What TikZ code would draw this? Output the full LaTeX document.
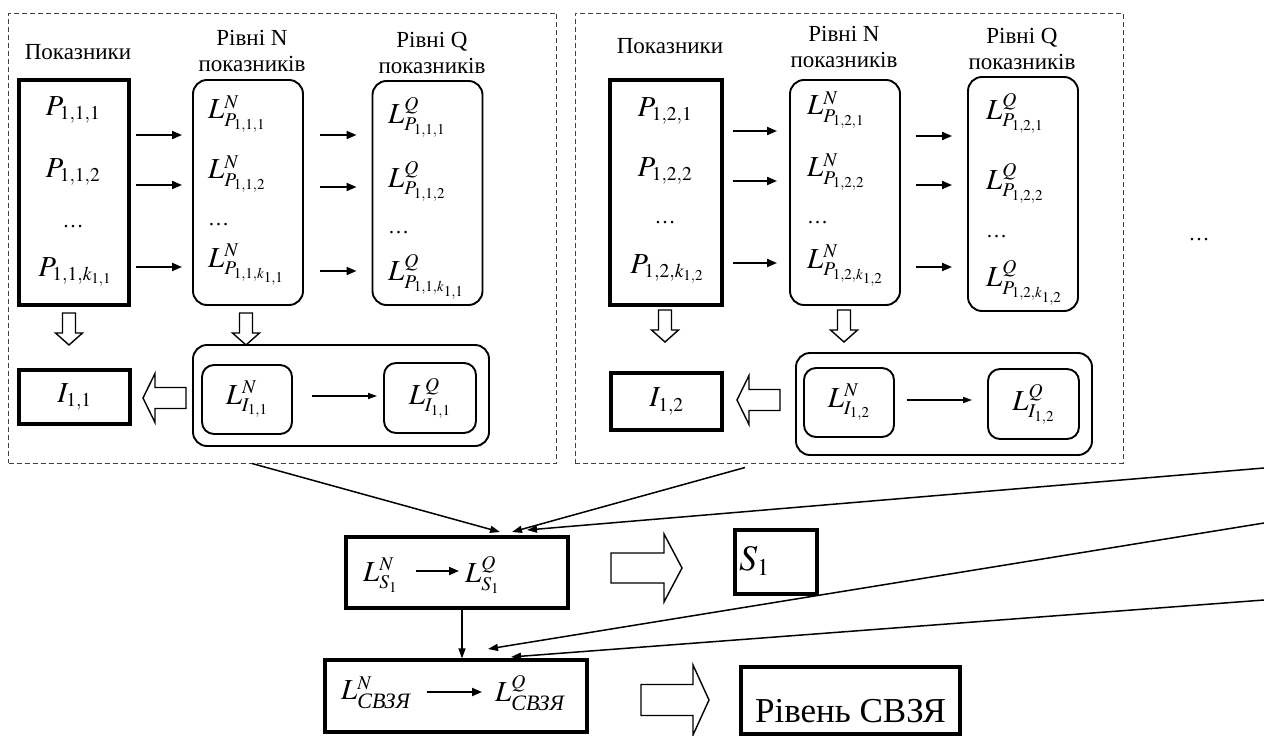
\documentclass[tikz,border=0pt]{standalone}
\usepackage{amsmath}
\usepackage{mathptmx}
\usepackage{fontspec}
\setmainfont{Liberation Serif}
\setsansfont{Liberation Serif}
\usetikzlibrary{arrows.meta}
\DeclareMathSizes{29}{29}{19.5}{15}
\DeclareMathSizes{36}{36}{24}{17}
\newcommand{\svzya}{\text{\fontsize{22pt}{22pt}\selectfont\itshape СВЗЯ}}

\tikzstyle{dashframe} = [draw=black!75, dash pattern=on 5pt off 3pt, line width=1pt, minimum width=548pt, minimum height=450pt, inner sep=0pt]
\tikzstyle{thickbox} = [draw, line width=3.2pt, inner sep=0pt]
\tikzstyle{roundbox} = [draw, line width=1.9pt, rounded corners=14pt, inner sep=0pt]
\tikzstyle{hdr} = [align=center, font=\rmfamily\fontsize{23pt}{26pt}\selectfont, inner sep=0pt]
\tikzstyle{entry} = [inner sep=0pt, font=\rmfamily\fontsize{29pt}{32pt}\selectfont]
\tikzstyle{dotsty} = [inner sep=0pt, font=\rmfamily\fontsize{21pt}{24pt}\selectfont]
\tikzstyle{arr} = [line width=1.9pt, -{Triangle[length=10pt,width=8pt]}]
\tikzstyle{thinarr} = [line width=1.3pt, -{Triangle[length=9pt,width=6pt]}]
\tikzstyle{longarr} = [line width=1.5pt, -{Triangle[length=10pt,width=7pt]}]
\tikzstyle{fat} = [draw, fill=white, line width=1.4pt, line join=miter]

\begin{document}
\begin{tikzpicture}[x=1pt, y=-1pt]
        \tikzset{pics/fatarrow/.style n args={4}{code={
            \path[fat] (0,-#2/2) -- (#1-#4,-#2/2) -- (#1-#4,-#3/2) -- (#1,0)
                -- (#1-#4,#3/2) -- (#1-#4,#2/2) -- (0,#2/2) -- cycle;}}}
        \useasboundingbox (0,0) rectangle (1264,736);

        % first group of indicators
        \node[dashframe] (g1) at (282.5,238) {};
        \node[hdr] (h11) at (78,52) {Показники};
        \node[hdr] (h12) at (252,50.5) {Рівні N\\показників};
        \node[hdr] (h13) at (432,52.5) {Рівні Q\\показників};

        \node[thickbox, minimum width=110pt, minimum height=225pt] (pb1) at (74,192.5) {};
        \node[entry] (p111) at (73,110) {$P_{1,1,1}$};
        \node[entry] (p112) at (73,172) {$P_{1,1,2}$};
        \node[dotsty] (p11d) at (73,227) {\dots};
        \node[entry] (p11k) at (75,272) {$P_{1,1,k_{1,1}}$};

        \node[roundbox, minimum width=110pt, minimum height=225pt] (nb1) at (248,192.5) {};
        \node[entry, anchor=west] (n111) at (208,114) {$L^{N}_{P_{1,1,1}}$};
        \node[entry, anchor=west] (n112) at (208,174) {$L^{N}_{P_{1,1,2}}$};
        \node[dotsty, anchor=west] (n11d) at (208,225) {\dots};
        \node[entry, anchor=west] (n11k) at (208,265) {$L^{N}_{P_{1,1,k_{1,1}}}$};

        \node[roundbox, minimum width=110pt, minimum height=224pt] (qb1) at (427.5,193) {};
        \node[entry, anchor=west] (q111) at (388,117) {$L^{Q}_{P_{1,1,1}}$};
        \node[entry, anchor=west] (q112) at (388,181) {$L^{Q}_{P_{1,1,2}}$};
        \node[dotsty, anchor=west] (q11d) at (388,233) {\dots};
        \node[entry, anchor=west] (q11k) at (388,277) {$L^{Q}_{P_{1,1,k_{1,1}}}$};

        \foreach \y in {135,185,267}
            \draw[arr, shorten <=5pt, shorten >=10pt] (pb1.east |- 0,\y) -- (nb1.west |- 0,\y);
        \foreach \y in {135,187,271}
            \draw[arr, shorten <=16pt, shorten >=15pt] (nb1.east |- 0,\y) -- (qb1.west |- 0,\y);

        \pic[rotate=-90] at (69,313) {fatarrow={32}{13}{27}{12}};
        \pic[rotate=-90] at (246,313) {fatarrow={32}{13}{27}{12}};

        \node[thickbox, entry, minimum width=111pt, minimum height=54pt] (i1) at (74.5,397) {$I_{1,1}$};
        \pic[rotate=180] at (186,398) {fatarrow={43}{21}{49}{12}};
        \node[roundbox, minimum width=296pt, minimum height=101pt] (ib1) at (341,395.5) {};
        \node[roundbox, entry, rounded corners=12pt, minimum width=90pt, minimum height=69pt] (in1) at (247,399.5) {$L^{N}_{I_{1,1}}$};
        \node[roundbox, entry, rounded corners=12pt, minimum width=92pt, minimum height=70pt] (iq1) at (430,398) {$L^{Q}_{I_{1,1}}$};
        \draw[thinarr, shorten <=19pt, shorten >=6pt] (in1.east |- 0,396) -- (iq1.west |- 0,396);

        % second group of indicators
        \node[dashframe] (g2) at (849,238) {};
        \node[hdr] (h21) at (670,46) {Показники};
        \node[hdr] (h22) at (844,46.5) {Рівні N\\показників};
        \node[hdr] (h23) at (1022,48.5) {Рівні Q\\показників};

        \node[thickbox, minimum width=112pt, minimum height=225pt] (pb2) at (666,192.5) {};
        \node[entry] (p121) at (665,111) {$P_{1,2,1}$};
        \node[entry] (p122) at (665,171) {$P_{1,2,2}$};
        \node[dotsty] (p12d) at (665,223) {\dots};
        \node[entry] (p12k) at (667,269) {$P_{1,2,k_{1,2}}$};

        \node[roundbox, minimum width=110pt, minimum height=225pt] (nb2) at (845,192.5) {};
        \node[entry, anchor=west] (n121) at (807,110) {$L^{N}_{P_{1,2,1}}$};
        \node[entry, anchor=west] (n122) at (807,172) {$L^{N}_{P_{1,2,2}}$};
        \node[dotsty, anchor=west] (n12d) at (807,223) {\dots};
        \node[entry, anchor=west] (n12k) at (807,266) {$L^{N}_{P_{1,2,k_{1,2}}}$};

        \node[roundbox, minimum width=110pt, minimum height=234pt] (qb2) at (1023,194) {};
        \node[entry, anchor=west] (q121) at (986,113) {$L^{Q}_{P_{1,2,1}}$};
        \node[entry, anchor=west] (q122) at (986,183) {$L^{Q}_{P_{1,2,2}}$};
        \node[dotsty, anchor=west] (q12d) at (986,237) {\dots};
        \node[entry, anchor=west] (q12k) at (986,283) {$L^{Q}_{P_{1,2,k_{1,2}}}$};

        \foreach \y in {131,181,263}
            \draw[arr, shorten <=9pt, shorten >=12pt] (pb2.east |- 0,\y) -- (nb2.west |- 0,\y);
        \foreach \y in {136,185,267}
            \draw[arr, shorten <=15pt, shorten >=15pt] (nb2.east |- 0,\y) -- (qb2.west |- 0,\y);

        \pic[rotate=-90] at (665,310) {fatarrow={32}{13}{27}{12}};
        \pic[rotate=-90] at (844,310) {fatarrow={32}{13}{27}{12}};

        \node[thickbox, entry, minimum width=111pt, minimum height=57pt] (i2) at (666.5,401.5) {$I_{1,2}$};
        \pic[rotate=180] at (780,400) {fatarrow={43}{21}{49}{12}};
        \node[roundbox, minimum width=296pt, minimum height=102pt] (ib2) at (944,404) {};
        \node[roundbox, entry, rounded corners=12pt, minimum width=90pt, minimum height=69pt] (in2) at (849,402.5) {$L^{N}_{I_{1,2}}$};
        \node[roundbox, entry, rounded corners=12pt, minimum width=91pt, minimum height=70pt] (iq2) at (1033.5,404) {$L^{Q}_{I_{1,2}}$};
        \draw[thinarr, shorten <=12pt, shorten >=15pt] (in2.east |- 0,400) -- (iq2.west |- 0,400);

        \node[dotsty] (more) at (1199,240) {\dots};

        % aggregation of the groups
        \node[thickbox, minimum width=222pt, minimum height=71pt] (sb) at (457,572.5) {};
        \node[entry, anchor=west] (sn) at (363,575) {$L^{N}_{S_1}$};
        \node[entry, anchor=west] (sq) at (465,575) {$L^{Q}_{S_1}$};
        \draw[arr, shorten <=18pt, shorten >=6pt] (sn.east |- 0,571) -- (sq.west |- 0,571);
        \pic at (611,568) {fatarrow={71}{30}{68}{18}};
        \node[thickbox, minimum width=82pt, minimum height=64pt] (s1b) at (776,562) {};
        \node[entry, font=\fontsize{36pt}{40pt}\selectfont, anchor=west] (s1) at (739,561) {$S_1$};

        \node[thickbox, minimum width=262pt, minimum height=72pt] (cb) at (456,696) {};
        \node[entry, anchor=west] (cn) at (341,693) {$L^{N}_{\svzya}$};
        \node[entry, anchor=west] (cq) at (495,693) {$L^{Q}_{\svzya}$};
        \draw[arr, shorten <=16pt, shorten >=13pt] (cn.east |- 0,692) -- (cq.west |- 0,692);
        \pic at (641,700) {fatarrow={68}{31}{70}{16}};
        \node[thickbox, minimum width=219pt, minimum height=67pt, font=\rmfamily\fontsize{35pt}{40pt}\selectfont, text height=43pt, text depth=0pt] (lev) at (850.5,700.5) {Рівень СВЗЯ};

        % incoming links
        \coordinate (t1) at (500,532);
        \coordinate (t2) at (512,532);
        \coordinate (t3) at (527,530);
        \coordinate (u1) at (488,649);
        \coordinate (u2) at (511,657);
        \coordinate (r1) at (1264,468);
        \coordinate (r2) at (1264,523);
        \coordinate (r3) at (1264,600);
        \draw[longarr] ([xshift=-30.5pt]g1.south) -- (t1);
        \draw[longarr] ([xshift=-104pt,yshift=-4pt]g2.south) -- (t2);
        \draw[longarr] (r1) -- (t3);
        \draw[longarr] (r2) -- (u1);
        \draw[longarr] (r3) -- (u2);
        \draw[longarr] ([xshift=5pt]sb.south) -- ([xshift=6pt]cb.north);
\end{tikzpicture}
\end{document}
